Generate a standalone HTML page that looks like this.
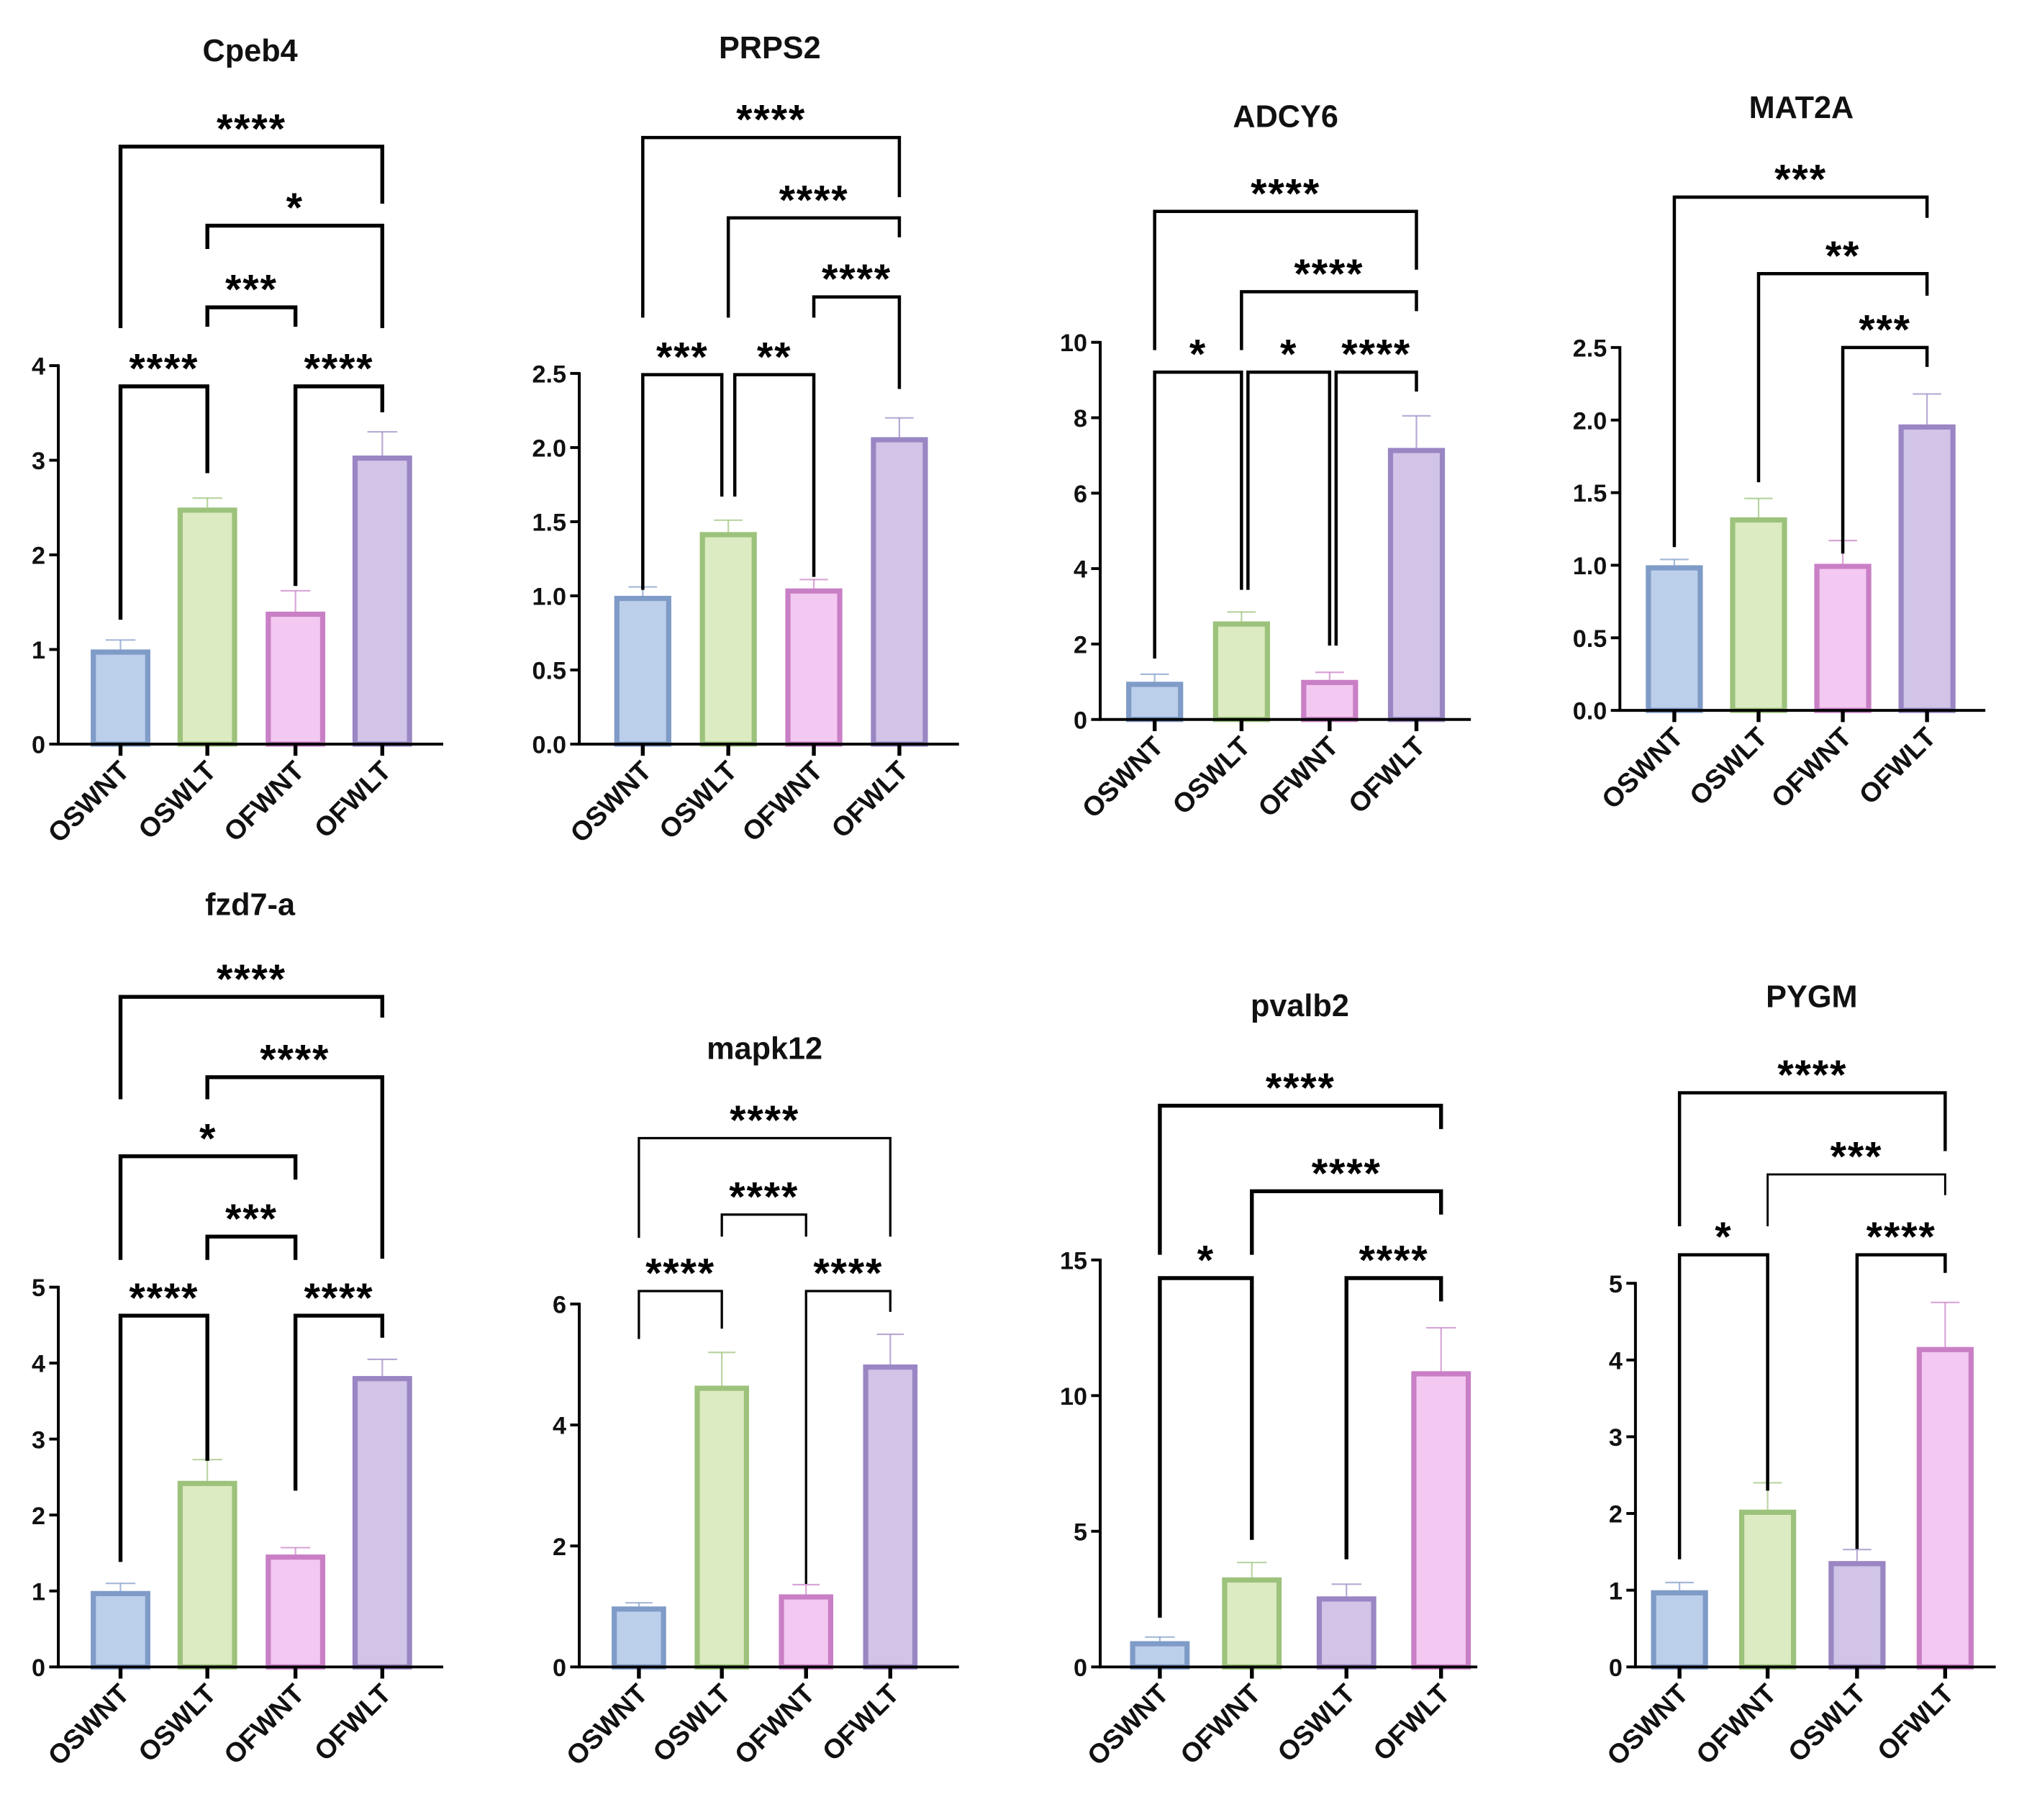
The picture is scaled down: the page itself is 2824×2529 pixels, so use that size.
<!DOCTYPE html>
<html><head><meta charset="utf-8"><style>
html,body{margin:0;padding:0;background:#fff;}
svg{display:block;font-family:"Liberation Sans",Arial,sans-serif;}
</style></head><body>
<svg id="fig" width="2824" height="2529" viewBox="0 0 1568 1404"></svg>
<script>
// ---- data ----
const titles = ["Cpeb4","PRPS2","ADCY6","MAT2A","fzd7-a","mapk12","pvalb2","PYGM"];
const catsA = ["OSWNT","OSWLT","OFWNT","OFWLT"];
const catsB = ["OSWNT","OFWNT","OSWLT","OFWLT"];
const meanCpeb4 = [1.0,2.5,1.4,3.05];   const errCpeb4 = [1.1,2.6,1.62,3.3];
const meanPRPS2 = [1.0,1.43,1.05,2.07]; const errPRPS2 = [1.06,1.51,1.11,2.2];
const meanADCY6 = [1.0,2.6,1.05,7.2];   const errADCY6 = [1.2,2.85,1.25,8.05];
const meanMAT2A = [1.0,1.33,1.01,1.97]; const errMAT2A = [1.04,1.46,1.17,2.18];
const meanFzd7 = [1.0,2.45,1.48,3.83];  const errFzd7 = [1.1,2.73,1.57,4.05];
const meanMapk12 = [1.0,4.65,1.2,5.0];  const errMapk12 = [1.06,5.2,1.36,5.5];
const meanPvalb2 = [0.95,3.3,2.6,10.9]; const errPvalb2 = [1.1,3.85,3.05,12.5];
const meanPYGM = [1.0,2.05,1.38,4.17];  const errPYGM = [1.1,2.4,1.53,4.75];
const ticks1 = [0,1,2,3,4];
const ticks2 = [0,0.5,1,1.5,2,2.5];
const ticks3 = [0,2,4,6,8,10];
const ticks5 = [0,1,2,3,4,5];
const ticks6 = [0,2,4,6];
const ticks7 = [0,5,10,15];

const C = {
  blue:["#bccfea","#7f9bc7"], green:["#dcebc1","#9cc27b"],
  pink:["#f3c8f1","#c97fc6"], purple:["#d1c4e7","#9986c3"]
};
const colA=[C.blue,C.green,C.pink,C.purple];
const colB=[C.blue,C.green,C.purple,C.pink];

const panels = [
 {t:0,cats:catsA,m:meanCpeb4,e:errCpeb4,ticks:ticks1,fmt:0,ax:45,x1:342,bot:574,top:282,cx:[93,160,228,295],bw:46,tx:193,ty:47,cols:colA,lw:3,
  br:[[0,1,298,478,365,"****"],[2,3,298,452,318,"****"],[1,2,237,252,252,"***"],[1,3,174,192,253,"*"],[0,3,113,253,157,"****"]]},
 {t:1,cats:catsA,m:meanPRPS2,e:errPRPS2,ticks:ticks2,fmt:1,ax:447,x1:740,bot:574,top:288,cx:[496,562,628,694],bw:44,tx:594,ty:45,cols:colA,lw:2.5,
  br:[[0,1,289,455,383,"***",-5],[1,2,289,383,445,"**",5],[2,3,229,245,300,"****"],[1,3,168,245,183,"****"],[0,3,106,245,152,"****"]]},
 {t:2,cats:catsA,m:meanADCY6,e:errADCY6,ticks:ticks3,fmt:0,ax:849,x1:1135,bot:555,top:264,cx:[891,958,1026,1093],bw:44,tx:992,ty:98,cols:colA,lw:2.5,
  br:[[0,1,287,508,455,"*",0,-5],[1,2,287,455,498,"*",5,-5],[2,3,287,498,302,"****",5],[1,3,225,270,240,"****"],[0,3,163,270,208,"****"]]},
 {t:3,cats:catsA,m:meanMAT2A,e:errMAT2A,ticks:ticks2,fmt:1,ax:1250,x1:1532,bot:548,top:268,cx:[1292,1357,1422,1487],bw:44,tx:1390,ty:91,cols:colA,lw:2.5,
  br:[[2,3,268,427,283,"***"],[1,3,211,372,228,"**"],[0,3,152,422,168,"***"]]},
 {t:4,cats:catsA,m:meanFzd7,e:errFzd7,ticks:ticks5,fmt:0,ax:45,x1:342,bot:1286,top:993,cx:[93,160,228,295],bw:46,tx:193,ty:706,cols:colA,lw:3,
  br:[[0,1,1015,1205,1127,"****"],[2,3,1015,1150,1032,"****"],[1,2,954,972,972,"***"],[0,2,892,972,910,"*"],[1,3,831,848,971,"****"],[0,3,769,848,785,"****"]]},
 {t:5,cats:catsA,m:meanMapk12,e:errMapk12,ticks:ticks6,fmt:0,ax:447,x1:740,bot:1286,top:1006,cx:[493,557,622,687],bw:42,tx:590,ty:817,cols:colA,lw:1.8,
  br:[[0,1,996,1033,1025,"****"],[2,3,996,1222,1012,"****"],[1,2,937,954,954,"****"],[0,3,878,955,954,"****"]]},
 {t:6,cats:catsB,m:meanPvalb2,e:errPvalb2,ticks:ticks7,fmt:0,ax:849,x1:1140,bot:1286,top:972,cx:[895,966,1039,1112],bw:46,tx:1003,ty:784,cols:colB,lw:3,
  br:[[0,1,986,1248,1188,"*"],[2,3,986,1203,1004,"****"],[1,3,919,968,937,"****"],[0,3,853,968,871,"****"]]},
 {t:7,cats:catsB,m:meanPYGM,e:errPYGM,ticks:ticks5,fmt:0,ax:1262,x1:1540,bot:1286,top:990,cx:[1296,1364,1433,1501],bw:44,tx:1398,ty:777,cols:colB,lw:2.5,
  br:[[0,1,968,1203,1150,"*"],[2,3,968,1195,982,"****"],[1,3,906,946,922,"***",0,0,1.6],[0,3,843,946,888,"****"]]}
];

const NS="http://www.w3.org/2000/svg";
const svg=document.getElementById('fig');
function mk(tag,attrs,parent){const el=document.createElementNS(NS,tag);for(const k in attrs)el.setAttribute(k,attrs[k]);(parent||svg).appendChild(el);return el;}

panels.forEach(p=>{
  const g=mk('g',{});
  
  
  const maxV=p.ticks[p.ticks.length-1];
  const y=v=>p.bot-v*(p.bot-p.top)/maxV;
  const tt=mk('text',{x:p.tx,y:p.ty,'text-anchor':'middle','font-size':24,'font-weight':'bold',fill:'#111'},g);
  tt.textContent=titles[p.t];
  
  
  p.m.forEach((v,i)=>{
    const [f,s]=p.cols[i];
    const cx=p.cx[i];
    const eb=mk('line',{x1:cx,x2:cx,y1:y(v),y2:y(p.e[i]),stroke:s,'stroke-width':1.2,'stroke-opacity':0.7},g);
    
    
    const ec=mk('line',{x1:cx-p.bw/4,x2:cx+p.bw/4,y1:y(p.e[i]),y2:y(p.e[i]),stroke:s,'stroke-width':1.2,'stroke-opacity':0.7},g);
    
    
    const r=mk('rect',{x:cx-p.bw/2+2,y:y(v)+2,width:p.bw-4,height:Math.max(0,p.bot-y(v)-2),fill:f,stroke:s,'stroke-width':4},g);
    
    
  });
  const ya=mk('line',{x1:p.ax,x2:p.ax,y1:p.top-1,y2:p.bot+1,stroke:'#000','stroke-width':2.2},g);
  
  
  const xa=mk('line',{x1:p.ax-1,x2:p.x1,y1:p.bot,y2:p.bot,stroke:'#000','stroke-width':2.2},g);
  
  
  p.ticks.forEach(t=>{
    mk('line',{x1:p.ax-7,x2:p.ax,y1:y(t),y2:y(t),stroke:'#000','stroke-width':2.2},g);
    const tl=mk('text',{x:p.ax-10,y:y(t)+7,'text-anchor':'end','font-size':19,'font-weight':'bold',fill:'#111'},g);
    tl.textContent=p.fmt?t.toFixed(1):String(t);
    
    
  });
  p.cats.forEach((c,i)=>{
    const cx=p.cx[i];
    mk('line',{x1:cx,x2:cx,y1:p.bot,y2:p.bot+9,stroke:'#000','stroke-width':3},g);
    const xl=mk('text',{x:0,y:0,'text-anchor':'end','font-size':21,'font-weight':'bold',fill:'#111',
      transform:`translate(${cx+8},${p.bot+22}) rotate(-45)`},g);
    xl.textContent=c;
    
    
  });
  p.br.forEach(b=>{
    const [a,c,by,la,lb,stars,dx,ax2,lwo]=b;
    const xa1=p.cx[a]+(dx&&a>0&&dx>0?dx:0), xb1=p.cx[c]+(dx&&dx<0?dx:0);
    const lw=lwo||p.lw;
    const pl=mk('polyline',{points:`${xa1},${la} ${xa1},${by} ${xb1},${by} ${xb1},${lb}`,fill:'none',stroke:'#000','stroke-width':lw},g);
    
    
    const st=mk('text',{x:(xa1+xb1)/2,y:by-3,'text-anchor':'middle','font-size':32,'font-weight':'bold','letter-spacing':1,fill:'#000'},g);
    st.textContent=stars;
    
    
  });
});
</script>
</body></html>
